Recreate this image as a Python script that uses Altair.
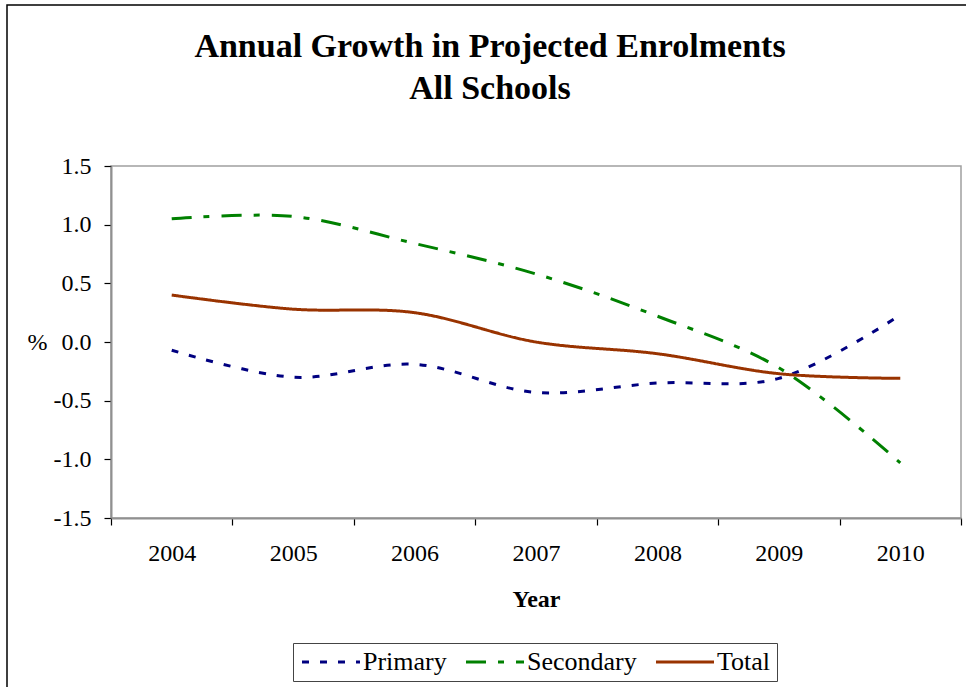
import altair as alt
import pandas as pd

years = ["2004", "2005", "2006", "2007", "2008", "2009", "2010"]
primary = [-0.07, -0.30, -0.19, -0.43, -0.35, -0.31, 0.23]
secondary = [1.05, 1.07, 0.84, 0.58, 0.22, -0.22, -1.03]
total = [0.40, 0.28, 0.25, 0.00, -0.10, -0.27, -0.31]

series_names = ["Primary", "Secondary", "Total"]
series_colors = ["#000080", "#008000", "#993300"]
series_dashes = [[7, 11], [20, 12, 6, 12], [1, 0]]
y_ticks = [-1.5, -1.0, -0.5, 0.0, 0.5, 1.0, 1.5]

rows = []
for name, vals in zip(series_names, [primary, secondary, total]):
    for yr, v in zip(years, vals):
        rows.append({"Year": yr, "Value": v, "Series": name})
df = pd.DataFrame(rows)

FONT = "Liberation Serif"

lines = alt.Chart(df).mark_line(strokeWidth=3, interpolate="catmull-rom").encode(
    x=alt.X(
        "Year:O",
        bandPosition=0.5,
        sort=years,
        scale=alt.Scale(type="band", paddingInner=0, paddingOuter=0),
        axis=alt.Axis(
            title="Year",
            tickBand="extent",
            labelAngle=0,
            labelBaseline="middle",
            labelPadding=28,
            tickSize=7,
            titleY=81,
            titleBaseline="middle",
            titleFontWeight="bold",
        ),
    ),
    y=alt.Y(
        "Value:Q",
        scale=alt.Scale(domain=[-1.5, 1.5], nice=False, zero=False),
        axis=alt.Axis(
            values=y_ticks,
            labelExpr="datum.value < 0 ? '-' + format(-datum.value, '.1f') : format(datum.value, '.1f')",
            title="%",
            titleAngle=0,
            titleAlign="center",
            titleBaseline="middle",
            titleX=-74,
            titleY=176,
            titleFontWeight="normal",
            tickSize=7,
            labelPadding=13,
        ),
    ),
    color=alt.Color(
        "Series:N",
        scale=alt.Scale(domain=series_names, range=series_colors),
        legend=alt.Legend(title=None),
    ),
    strokeDash=alt.StrokeDash(
        "Series:N",
        scale=alt.Scale(domain=series_names, range=series_dashes),
        legend=alt.Legend(title=None),
    ),
)

frame = alt.Chart(alt.Data(values=[{"k": 1}])).mark_rect(
    fill="transparent", stroke="black", strokeWidth=1.5
).encode(
    x=alt.value(-104), x2=alt.value(880), y=alt.value(-161), y2=alt.value(560)
)

chart = alt.layer(lines, frame).properties(
    width=850,
    height=352,
    autosize=alt.AutoSizeParams(type="none"),
    padding={"left": 111, "top": 166, "right": 5, "bottom": 169},
    title=alt.TitleParams(
        ["Annual Growth in Projected Enrolments", "All Schools"],
        font=FONT,
        fontSize=34,
        fontWeight="bold",
        anchor="middle",
        frame="group",
        dx=-46,
        offset=0,
        dy=102,
        lineHeight=42,
        color="black",
    ),
).configure(
    background="white"
).configure_view(
    stroke="#a0a0a0", strokeWidth=1.5
).configure_axis(
    grid=False,
    labelFont=FONT,
    labelFontSize=24,
    labelColor="black",
    titleFont=FONT,
    titleFontSize=24,
    titleColor="black",
    domainColor="#909090",
    domainWidth=2,
    tickColor="black",
    tickWidth=1.2,
).configure_legend(
    orient="none",
    legendX=182,
    legendY=477,
    direction="horizontal",
    labelFont=FONT,
    labelFontSize=26,
    labelColor="black",
    labelOffset=38,
    columnPadding=13,
    symbolType="M-2,0H9.6",
    symbolSize=100,
    symbolStrokeWidth=3,
    strokeColor="#444444",
    padding=6,
    cornerRadius=0,
)

chart.save("out.html", embed_options={"renderer": "svg", "actions": False})
